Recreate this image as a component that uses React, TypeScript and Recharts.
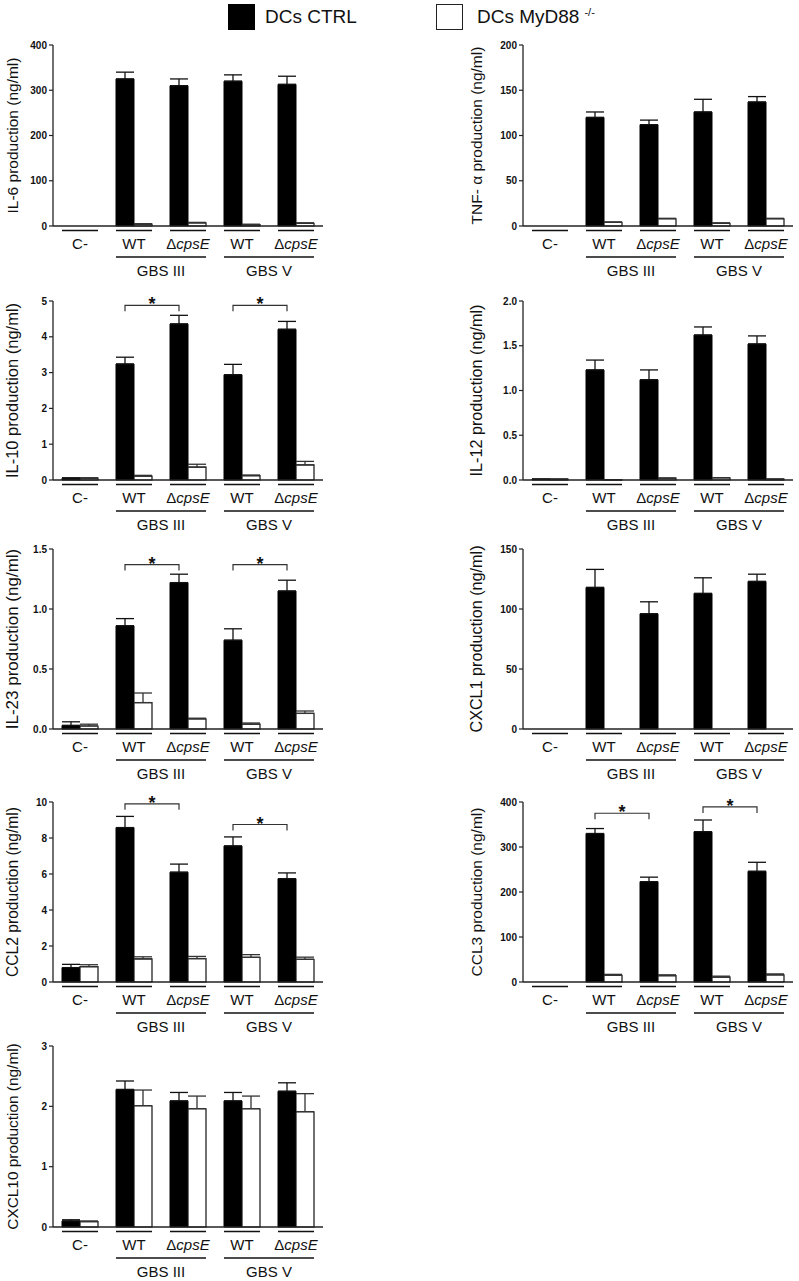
import React from 'react';
import { BarChart, Bar, XAxis, YAxis, ErrorBar } from 'recharts';

const FONT = '"Liberation Sans", Arial, Helvetica, sans-serif';

// x axis: five treatments, the last four split into two GBS strains
const categoryIds = ['neg', 'wt3', 'cps3', 'wt5', 'cps5'];
const categoryLabels = ['C-', 'WT', 'ΔcpsE', 'WT', 'ΔcpsE'];
const strainGroups = [
  { label: 'GBS III', from: 1, to: 2 },
  { label: 'GBS V', from: 3, to: 4 },
];
const seriesNames = ['DCs CTRL', 'DCs MyD88'];
const seriesSup = ['', '-/-'];

// IL-6
const il6Ctrl = [0, 325, 310, 320, 313];
const il6CtrlErr = [0, 15, 15, 14, 18];
const il6Ko = [0, 4, 7, 3, 6];
const il6KoErr = [0, 1, 1, 1, 1];
// TNF-a
const tnfCtrl = [0, 120, 112, 126, 137];
const tnfCtrlErr = [0, 6, 5, 14, 6];
const tnfKo = [0, 4, 8, 3, 8];
const tnfKoErr = [0, 0.5, 0.5, 0.5, 0.5];
// IL-10
const il10Ctrl = [0.05, 3.24, 4.36, 2.94, 4.21];
const il10CtrlErr = [0.01, 0.19, 0.24, 0.29, 0.22];
const il10Ko = [0.05, 0.11, 0.36, 0.12, 0.42];
const il10KoErr = [0.01, 0.02, 0.08, 0.02, 0.1];
// IL-12
const il12Ctrl = [0.01, 1.23, 1.12, 1.62, 1.52];
const il12CtrlErr = [0, 0.11, 0.11, 0.09, 0.09];
const il12Ko = [0.01, 0.003, 0.02, 0.025, 0.01];
const il12KoErr = [0, 0, 0, 0, 0];
// IL-23
const il23Ctrl = [0.03, 0.86, 1.22, 0.74, 1.15];
const il23CtrlErr = [0.03, 0.06, 0.07, 0.095, 0.09];
const il23Ko = [0.025, 0.22, 0.085, 0.04, 0.13];
const il23KoErr = [0.015, 0.08, 0.005, 0.01, 0.02];
// CXCL1
const cxcl1Ctrl = [0, 118, 96, 113, 123];
const cxcl1CtrlErr = [0, 15, 10, 13, 6];
const cxcl1Ko = [0, 0, 0, 0, 0];
const cxcl1KoErr = [0, 0, 0, 0, 0];
// CCL2
const ccl2Ctrl = [0.8, 8.58, 6.1, 7.56, 5.74];
const ccl2CtrlErr = [0.18, 0.62, 0.45, 0.5, 0.32];
const ccl2Ko = [0.85, 1.28, 1.3, 1.37, 1.26];
const ccl2KoErr = [0.11, 0.12, 0.12, 0.15, 0.12];
// CCL3
const ccl3Ctrl = [0, 330, 223, 334, 246];
const ccl3CtrlErr = [0, 11, 10, 26, 20];
const ccl3Ko = [0, 15, 14, 11, 16];
const ccl3KoErr = [0, 2, 2, 2, 2];
// CXCL10
const cxcl10Ctrl = [0.1, 2.28, 2.09, 2.09, 2.25];
const cxcl10CtrlErr = [0.02, 0.14, 0.14, 0.14, 0.14];
const cxcl10Ko = [0.09, 2.01, 1.96, 1.96, 1.91];
const cxcl10KoErr = [0.01, 0.26, 0.21, 0.21, 0.3];

// significance brackets (WT vs dcpsE), height in data units
const il10Sig = [{ from: 1, to: 2, y: 4.88 }, { from: 3, to: 4, y: 4.88 }];
const il23Sig = [{ from: 1, to: 2, y: 1.37 }, { from: 3, to: 4, y: 1.37 }];
const ccl2Sig = [{ from: 1, to: 2, y: 9.9 }, { from: 3, to: 4, y: 8.75 }];
const ccl3Sig = [{ from: 1, to: 2, y: 375 }, { from: 3, to: 4, y: 389 }];

const BAR_SIZE = 18;
const PLOT_W = 270;
const MARGIN_TOP = 10;
const MARGIN_RIGHT = 7;
const X_AXIS_H = 54;
const rowTop = [45, 301, 549, 802, 1046];
const rowZero = [226, 480, 729, 982, 1227];
const colLeft = [0, 460];
const colAxisW = [53, 63];
const colLabelX = [12, 16];

const build = (ctrl: number[], ctrlErr: number[], ko: number[], koErr: number[]) =>
  categoryIds.map((id, i) => ({
    id,
    ctrl: ctrl[i],
    ctrlErr: [0, ctrlErr[i]],
    ko: ko[i],
    koErr: [0, koErr[i]],
  }));

const panels = [
  { label: 'IL-6 production  (ng/ml)', data: build(il6Ctrl, il6CtrlErr, il6Ko, il6KoErr), ticks: [0, 100, 200, 300, 400], dec: 0, sig: [], row: 0, col: 0, fs: 15.5 },
  { label: 'TNF- α production  (ng/ml)', data: build(tnfCtrl, tnfCtrlErr, tnfKo, tnfKoErr), ticks: [0, 50, 100, 150, 200], dec: 0, sig: [], row: 0, col: 1, fs: 15.5 },
  { label: 'IL-10 production (ng/ml)', data: build(il10Ctrl, il10CtrlErr, il10Ko, il10KoErr), ticks: [0, 1, 2, 3, 4, 5], dec: 0, sig: il10Sig, row: 1, col: 0, fs: 16.5 },
  { label: 'IL-12 production (ng/ml)', data: build(il12Ctrl, il12CtrlErr, il12Ko, il12KoErr), ticks: [0, 0.5, 1, 1.5, 2], dec: 1, sig: [], row: 1, col: 1, fs: 16.2 },
  { label: 'IL-23 production (ng/ml)', data: build(il23Ctrl, il23CtrlErr, il23Ko, il23KoErr), ticks: [0, 0.5, 1, 1.5], dec: 1, sig: il23Sig, row: 2, col: 0, fs: 17 },
  { label: 'CXCL1 production (ng/ml)', data: build(cxcl1Ctrl, cxcl1CtrlErr, cxcl1Ko, cxcl1KoErr), ticks: [0, 50, 100, 150], dec: 0, sig: [], row: 2, col: 1, fs: 16.2 },
  { label: 'CCL2 production (ng/ml)', data: build(ccl2Ctrl, ccl2CtrlErr, ccl2Ko, ccl2KoErr), ticks: [0, 2, 4, 6, 8, 10], dec: 0, sig: ccl2Sig, row: 3, col: 0, fs: 15.6 },
  { label: 'CCL3 production (ng/ml)', data: build(ccl3Ctrl, ccl3CtrlErr, ccl3Ko, ccl3KoErr), ticks: [0, 100, 200, 300, 400], dec: 0, sig: ccl3Sig, row: 3, col: 1, fs: 15.5 },
  { label: 'CXCL10 production (ng/ml)', data: build(cxcl10Ctrl, cxcl10CtrlErr, cxcl10Ko, cxcl10KoErr), ticks: [0, 1, 2, 3], dec: 0, sig: [], row: 4, col: 0, fs: 15.4 },
];

const CategoryTick = (props: any) => {
  const { x, y, payload } = props;
  const i = payload.index ?? props.index;
  const half = payload.offset || PLOT_W / categoryIds.length / 2;
  const label = categoryLabels[i];
  const grp = strainGroups.find((g) => g.from === i);
  return (
    <g fontFamily={FONT}>
      <line x1={x - BAR_SIZE} x2={x + BAR_SIZE} y1={y + 4.5} y2={y + 4.5} stroke="#111" strokeWidth={1.7} />
      <text x={x} y={y + 23} textAnchor="middle" fontSize={15} fill="#111">
        {label.startsWith('Δ') ? (
          <>
            <tspan>Δ</tspan>
            <tspan fontStyle="italic">{label.slice(1)}</tspan>
          </>
        ) : (
          label
        )}
      </text>
      {grp && (
        <>
          <line
            x1={x - BAR_SIZE}
            x2={x + (grp.to - grp.from) * 2 * half + BAR_SIZE}
            y1={y + 31}
            y2={y + 31}
            stroke="#111"
            strokeWidth={1.7}
          />
          <text x={x + (grp.to - grp.from) * half} y={y + 49.5} textAnchor="middle" fontSize={15} fill="#111">
            {grp.label}
          </text>
        </>
      )}
    </g>
  );
};

// bracket + star drawn from the black bar's own geometry
const makeBracket = (sig: { from: number; to: number; y: number }[], axisW: number) => (props: any) => {
  const vb = props.viewBox || props;
  const { value } = props;
  if (!value || !vb) return null;
  const band = PLOT_W / categoryIds.length;
  const cx = vb.x + vb.width / 2;
  const idx = Math.floor((cx - axisW) / band);
  const b = sig.find((s) => s.from === idx);
  if (!b) return null;
  const base = vb.y + vb.height;
  const perUnit = vb.height / value;
  const by = base - b.y * perUnit;
  const x2 = cx + (b.to - b.from) * band;
  return (
    <g>
      <path d={`M${cx},${by + 6}V${by}H${x2}V${by + 6}`} fill="none" stroke="#333" strokeWidth={1.2} />
      <text x={(cx + x2) / 2} y={by + 5} textAnchor="middle" fontSize={18} fontWeight="bold" fill="#111" fontFamily={FONT}>
        *
      </text>
    </g>
  );
};

const Panel = ({ p }: { p: (typeof panels)[number] }) => {
  const top = rowTop[p.row];
  const plotH = rowZero[p.row] - top;
  const height = MARGIN_TOP + plotH + X_AXIS_H;
  const max = p.ticks[p.ticks.length - 1];
  const axisW = colAxisW[p.col];
  const labelX = colLabelX[p.col];
  return (
    <div style={{ position: 'absolute', left: colLeft[p.col], top: top - MARGIN_TOP }}>
      <BarChart
        width={axisW + PLOT_W + MARGIN_RIGHT}
        height={height}
        data={p.data}
        margin={{ top: MARGIN_TOP, right: MARGIN_RIGHT, left: 0, bottom: 0 }}
        barGap={0}
        barSize={BAR_SIZE}
      >
        <XAxis
          dataKey="id"
          interval={0}
          height={X_AXIS_H}
          tickLine={false}
          tickSize={0}
          tickMargin={0}
          axisLine={{ stroke: '#222', strokeWidth: 1.3 }}
          tick={(t: any) => <CategoryTick {...t} />}
        />
        <YAxis
          width={axisW}
          domain={[0, max]}
          ticks={p.ticks}
          interval={0}
          tickSize={4}
          tickFormatter={(v: number) => v.toFixed(p.dec)}
          axisLine={{ stroke: '#222', strokeWidth: 1.3 }}
          tickLine={{ stroke: '#222', strokeWidth: 1.2 }}
          tick={{ fontSize: 10, fontWeight: 'bold', fill: '#111', fontFamily: FONT }}
          label={(l: any) => {
            const vb = l.viewBox;
            const cx = vb.x + labelX;
            const cy = vb.y + vb.height / 2;
            return (
              <text
                x={cx}
                y={cy}
                transform={`rotate(-90 ${cx} ${cy})`}
                textAnchor="middle"
                dominantBaseline="central"
                fontSize={p.fs}
                fill="#111"
                fontFamily={FONT}
              >
                {p.label}
              </text>
            );
          }}
        />
        <Bar
          dataKey="ctrl"
          name={seriesNames[0]}
          fill="#000"
          stroke="#000"
          strokeWidth={1}
          isAnimationActive={false}
          label={p.sig.length ? makeBracket(p.sig, axisW) : false}
        >
          <ErrorBar dataKey="ctrlErr" direction="y" width={9} stroke="#111" strokeWidth={1.3} isAnimationActive={false} />
        </Bar>
        <Bar dataKey="ko" name={seriesNames[1]} fill="#fff" stroke="#111" strokeWidth={1.2} isAnimationActive={false}>
          <ErrorBar dataKey="koErr" direction="y" width={9} stroke="#333" strokeWidth={1.3} isAnimationActive={false} />
        </Bar>
      </BarChart>
    </div>
  );
};

const LegendItem = ({ left, filled, i }: { left: number; filled: boolean; i: number }) => (
  <div style={{ position: 'absolute', left, top: 4, display: 'flex', alignItems: 'center' }}>
    <div
      style={{
        width: filled ? 27 : 25,
        height: filled ? 26 : 24,
        background: filled ? '#000' : '#fff',
        border: filled ? 'none' : '1.5px solid #222',
      }}
    />
    <span style={{ marginLeft: filled ? 10 : 14, fontSize: 19, color: '#111', whiteSpace: 'nowrap' }}>
      {seriesNames[i]}
      {seriesSup[i] && <sup style={{ fontSize: 11, marginLeft: 5 }}>{seriesSup[i]}</sup>}
    </span>
  </div>
);

export default function App() {
  return (
    <div
      style={{
        position: 'absolute',
        left: 0,
        top: 0,
        width: 799,
        height: 1281,
        overflow: 'hidden',
        background: '#fff',
        fontFamily: FONT,
      }}
    >
      <LegendItem left={228} filled i={0} />
      <LegendItem left={436} filled={false} i={1} />
      {panels.map((p) => (
        <Panel key={p.label} p={p} />
      ))}
    </div>
  );
}
